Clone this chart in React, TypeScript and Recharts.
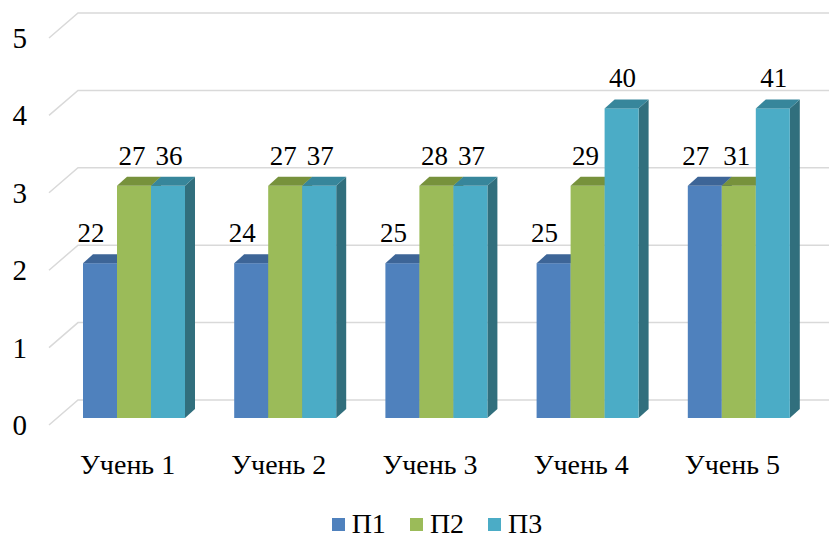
import { BarChart, Bar, XAxis, YAxis, CartesianGrid, Legend, LabelList } from 'recharts';

const students = ['Учень 1', 'Учень 2', 'Учень 3', 'Учень 4', 'Учень 5'];
const p1Levels = [2, 2, 2, 2, 3];
const p2Levels = [3, 3, 3, 3, 3];
const p3Levels = [3, 3, 3, 4, 4];
const p1Labels = [22, 24, 25, 25, 27];
const p2Labels = [27, 27, 28, 29, 31];
const p3Labels = [36, 37, 37, 40, 41];
const yTicks = [0, 1, 2, 3, 4, 5];

const series = [
  { key: 'p1', label: 'l1', name: 'П1', front: '#4F81BD', top: '#3D6597', side: '#385D8A', shift: -9 },
  { key: 'p2', label: 'l2', name: 'П2', front: '#9BBB59', top: '#77923C', side: '#71893F', shift: -2 },
  { key: 'p3', label: 'l3', name: 'П3', front: '#4BACC6', top: '#37869B', side: '#316F7D', shift: 1 },
];

const data = students.map((s, i) => ({
  name: s,
  p1: p1Levels[i],
  p2: p2Levels[i],
  p3: p3Levels[i],
  l1: p1Labels[i],
  l2: p2Labels[i],
  l3: p3Labels[i],
}));

const FONT = '"Liberation Serif", "Times New Roman", serif';
const DX = 10;
const DY = 9;

// 3d-ish box: front face, top face, right side face
const makeShape = (s: typeof series[number]) => (props: any) => {
  const { x, y, width, height } = props;
  if (height == null || height <= 0) return <g />;
  const top = `${x},${y} ${x + DX},${y - DY} ${x + width + DX},${y - DY} ${x + width},${y}`;
  const side = `${x + width},${y} ${x + width + DX},${y - DY} ${x + width + DX},${y + height - DY} ${x + width},${y + height}`;
  return (
    <g>
      <polygon points={side} fill={s.side} />
      <rect x={x} y={y} width={width} height={height} fill={s.front} />
      <polygon points={top} fill={s.top} />
    </g>
  );
};

const gridLine = (props: any) => {
  const { x1, x2, y1, index } = props;
  return (
    <path
      key={`g-${index}`}
      d={`M${x1 - 9},${y1 + 7} L${x1 + 20},${y1 - 18} L${x2 + 15},${y1 - 18}`}
      stroke="#D9D9D9"
      strokeWidth={1.5}
      fill="none"
    />
  );
};

const YTick = ({ y, payload }: any) => (
  <text x={27} y={y + 7} textAnchor="end" dominantBaseline="central" style={{ fontFamily: FONT, fontSize: 29 }} fill="#000">
    {payload.value}
  </text>
);

const XTick = ({ x, y, payload }: any) => (
  <text x={x - 6} y={y + 38} textAnchor="middle" dominantBaseline="central" style={{ fontFamily: FONT, fontSize: 28 }} fill="#000">
    {payload.value}
  </text>
);

const makeLabel = (shift: number) => (props: any) => {
  const { x, y, width, value } = props;
  return (
    <text x={x + width / 2 + shift} y={y - 21} textAnchor="middle" style={{ fontFamily: FONT, fontSize: 27 }} fill="#000">
      {value}
    </text>
  );
};

const LegendContent = () => (
  <div style={{ display: 'flex', justifyContent: 'center', alignItems: 'center', height: 45, paddingLeft: 60, paddingTop: 15, boxSizing: 'border-box' }}>
    {series.map((s) => (
      <div key={s.key} style={{ display: 'flex', alignItems: 'center', margin: '0 12px' }}>
        <div style={{ width: 13, height: 13, background: s.front, marginRight: 7 }} />
        <span style={{ fontFamily: FONT, fontSize: 28, lineHeight: 1 }}>{s.name}</span>
      </div>
    ))}
  </div>
);

export default function App() {
  return (
    <div style={{ position: 'absolute', left: 0, top: 0, width: 829, height: 539, background: '#fff' }}>
      <BarChart
        width={829}
        height={539}
        data={data}
        margin={{ top: 31, right: 15, left: 0, bottom: 0 }}
        barSize={34}
        barGap={0}
      >
        <CartesianGrid vertical={false} horizontal={gridLine} />
        <XAxis dataKey="name" axisLine={false} tickLine={false} height={76} tick={<XTick />} interval={0} />
        <YAxis
          domain={[0, 5]}
          ticks={yTicks}
          axisLine={false}
          tickLine={false}
          width={58}
          tick={<YTick />}
        />
        <Legend verticalAlign="bottom" height={45} content={<LegendContent />} />
        {series.map((s) => (
          <Bar key={s.key} dataKey={s.key} name={s.name} fill={s.front} shape={makeShape(s)} isAnimationActive={false}>
            <LabelList dataKey={s.label} content={makeLabel(s.shift)} />
          </Bar>
        ))}
      </BarChart>
    </div>
  );
}
